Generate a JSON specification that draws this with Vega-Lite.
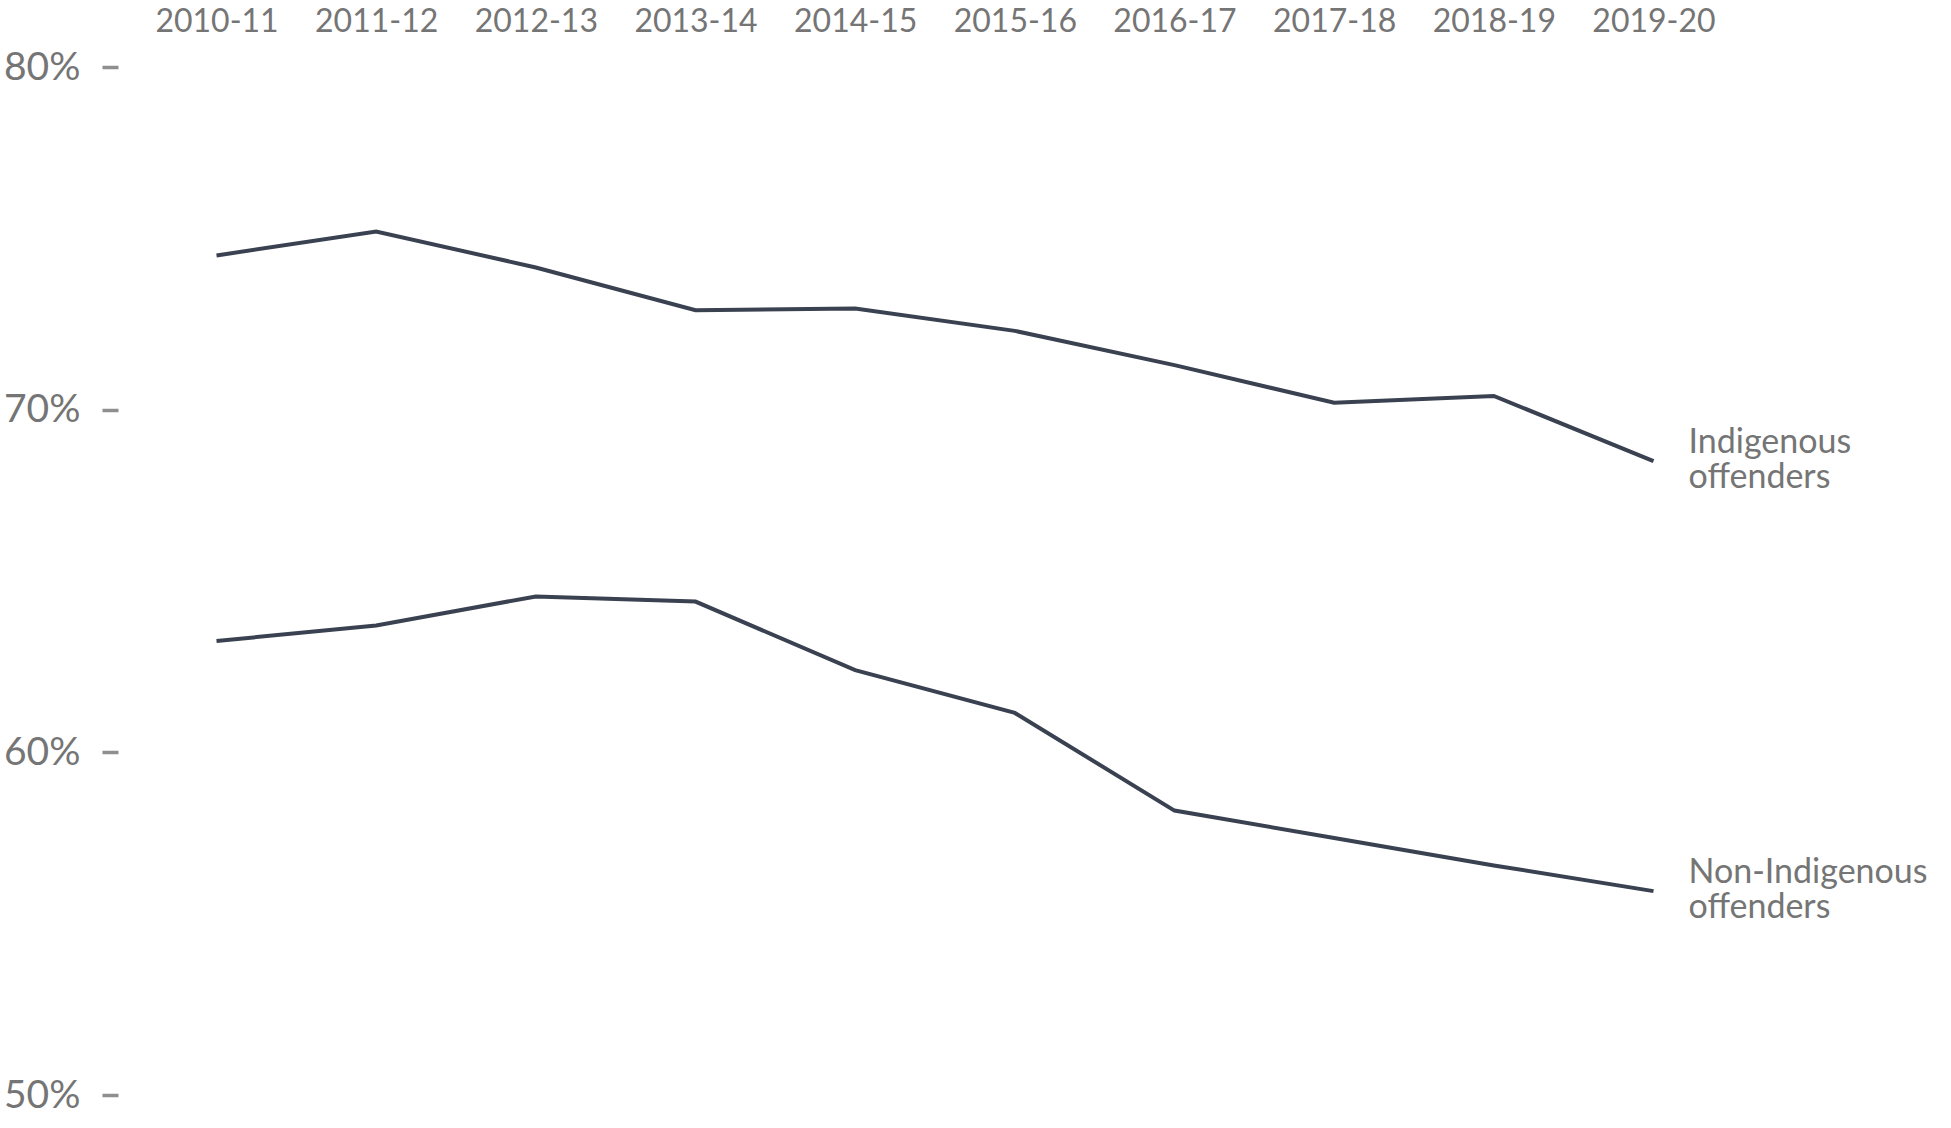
{
  "$schema": "https://vega.github.io/schema/vega-lite/v6.json",
  "autosize": "none",
  "width": 1634,
  "height": 1028,
  "padding": {"left": 118, "top": 67, "right": 199, "bottom": 33},
  "background": "white",
  "config": {
    "view": {"stroke": null},
    "font": "Lato"
  },
  "data": {
    "values": [
      {"year": "2010-11", "series": "Indigenous offenders", "rate": 74.5},
      {"year": "2011-12", "series": "Indigenous offenders", "rate": 75.2},
      {"year": "2012-13", "series": "Indigenous offenders", "rate": 74.15},
      {"year": "2013-14", "series": "Indigenous offenders", "rate": 72.9},
      {"year": "2014-15", "series": "Indigenous offenders", "rate": 72.95},
      {"year": "2015-16", "series": "Indigenous offenders", "rate": 72.3},
      {"year": "2016-17", "series": "Indigenous offenders", "rate": 71.3},
      {"year": "2017-18", "series": "Indigenous offenders", "rate": 70.2},
      {"year": "2018-19", "series": "Indigenous offenders", "rate": 70.4},
      {"year": "2019-20", "series": "Indigenous offenders", "rate": 68.5},
      {"year": "2010-11", "series": "Non-Indigenous offenders", "rate": 63.25},
      {"year": "2011-12", "series": "Non-Indigenous offenders", "rate": 63.7},
      {"year": "2012-13", "series": "Non-Indigenous offenders", "rate": 64.55},
      {"year": "2013-14", "series": "Non-Indigenous offenders", "rate": 64.4},
      {"year": "2014-15", "series": "Non-Indigenous offenders", "rate": 62.4},
      {"year": "2015-16", "series": "Non-Indigenous offenders", "rate": 61.15},
      {"year": "2016-17", "series": "Non-Indigenous offenders", "rate": 58.3},
      {"year": "2017-18", "series": "Non-Indigenous offenders", "rate": 57.5},
      {"year": "2018-19", "series": "Non-Indigenous offenders", "rate": 56.7},
      {"year": "2019-20", "series": "Non-Indigenous offenders", "rate": 55.95}
    ]
  },
  "encoding": {
    "x": {
      "field": "year",
      "type": "ordinal",
      "scale": {"type": "point", "padding": 0.617},
      "axis": {
        "orient": "top",
        "title": null,
        "labelAngle": 0,
        "ticks": false,
        "tickSize": 0,
        "domain": false,
        "labelFontSize": 32,
        "labelColor": "#757575",
        "labelBaseline": "alphabetic",
        "labelPadding": 36
      }
    },
    "y": {
      "field": "rate",
      "type": "quantitative",
      "scale": {"domain": [50, 80], "nice": false, "zero": false},
      "axis": {
        "title": null,
        "values": [50, 60, 70, 80],
        "labelExpr": "datum.value + '%'",
        "grid": false,
        "domain": false,
        "tickSize": 16,
        "tickWidth": 3.5,
        "tickColor": "#8f8f8f",
        "labelPadding": 22,
        "labelFontSize": 39,
        "labelColor": "#757575"
      }
    }
  },
  "layer": [
    {
      "mark": {"type": "line", "color": "#3a4150", "strokeWidth": 4},
      "encoding": {"detail": {"field": "series"}}
    },
    {
      "transform": [{"filter": "datum.year === '2019-20'"}],
      "mark": {
        "type": "text",
        "align": "left",
        "baseline": "middle",
        "dx": 35,
        "dy": -18,
        "fontSize": 34,
        "lineHeight": 35,
        "lineBreak": " ",
        "color": "#757575"
      },
      "encoding": {"text": {"field": "series"}}
    }
  ]
}
